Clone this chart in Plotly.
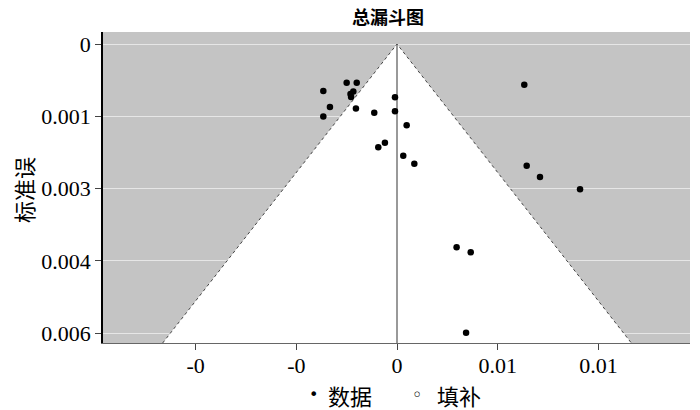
import plotly.graph_objects as go

# Study data (effect size, standard error)
effect = [-0.00250, -0.00200, -0.00366, -0.00217, -0.00231, -0.00228, -0.00333,
          -0.00366, -0.00204, -0.00113, -0.00010, -0.00010, 0.00048, -0.00060,
          -0.00093, 0.00031, 0.00086, 0.00632, 0.00644, 0.00710, 0.00909,
          0.00296, 0.00366, 0.00343]
std_err = [0.000803, 0.000803, 0.000975, 0.000985, 0.001037, 0.00110, 0.001307,
           0.001504, 0.001338, 0.001425, 0.001106, 0.001396, 0.001687, 0.002048,
           0.002143, 0.002317, 0.002483, 0.000844, 0.002525, 0.002759, 0.003015,
           0.004218, 0.004322, 0.005990]

y_tickvals = [0, 0.0015, 0.003, 0.0045, 0.006]
y_ticktext = ["0", "0.001", "0.003", "0.004", "0.006"]
x_tickvals = [-0.01, -0.005, 0, 0.005, 0.01]
x_ticktext = ["-0", "-0", "0", "0.01", "0.01"]

legend_labels = ["数据", "填补"]
legend_glyphs = ["•", "◦"]

pooled = 0.0
z_val = 1.876
y_range = [0.006203, -0.000249]
x_range = [-0.0146, 0.01455]
se_max = y_range[0]

serif = "Liberation Serif, Noto Sans CJK SC"
cjk = "Noto Sans CJK SC"

fig = go.Figure()

# funnel (white region)
fig.add_trace(go.Scatter(
    x=[pooled - z_val * se_max, pooled, pooled + z_val * se_max],
    y=[se_max, 0, se_max],
    mode="lines", fill="toself", fillcolor="white",
    line=dict(color="#444444", width=1, dash="dot"),
    hoverinfo="skip", showlegend=False))

# pooled line
fig.add_trace(go.Scatter(
    x=[pooled, pooled], y=[0, se_max], mode="lines",
    line=dict(color="#555555", width=1.2),
    hoverinfo="skip", showlegend=False))

fig.add_trace(go.Scatter(
    x=effect, y=std_err, mode="markers", name=legend_labels[0],
    marker=dict(color="black", size=6.5, symbol="circle"),
    showlegend=False))

# legend drawn as text (imputed series is empty)
leg_y = -0.167
leg_items = [
    (legend_glyphs[0], 0.3578, "DejaVu Sans", 16),
    (legend_labels[0], 0.4208, cjk, 22),
    (legend_glyphs[1], 0.5366, "DejaVu Sans", 18),
    (legend_labels[1], 0.6065, cjk, 22),
]
for txt, xp, fam, sz in leg_items:
    fig.add_annotation(text=txt, xref="paper", yref="paper", x=xp, y=leg_y,
                       xanchor="center", yanchor="middle", showarrow=False,
                       font=dict(family=fam, size=sz, color="black"))

# y-axis title
fig.add_annotation(text="标准误", xref="paper", yref="paper", x=-0.1363, y=0.492,
                   xanchor="center", yanchor="middle",
                   textangle=-90, showarrow=False,
                   font=dict(family=cjk, size=22, color="black"))

# chart title as an annotation placed just above the plot area
fig.add_annotation(text="<b>总漏斗图</b>", xref="paper", yref="paper",
                   x=0.4855, y=1.0, xanchor="center", yanchor="bottom",
                   yshift=1, showarrow=False,
                   font=dict(family=cjk, size=18, color="black"))

fig.update_layout(
    width=700, height=410,
    margin=dict(l=95, r=18, t=24, b=75),
    paper_bgcolor="white",
    plot_bgcolor="#c4c4c4",
    font=dict(family=serif, size=22, color="black"),
    showlegend=False,
)

fig.update_xaxes(
    range=x_range, tickvals=x_tickvals, ticktext=x_ticktext,
    showgrid=False, zeroline=False, automargin=False,
    showline=True, linecolor="#666666", linewidth=1,
    ticks="outside", ticklen=6, tickcolor="#444444",
    ticklabelstandoff=-3,
    tickfont=dict(family=serif, size=22))

fig.update_yaxes(
    range=y_range, tickvals=y_tickvals, ticktext=y_ticktext,
    showgrid=True, gridcolor="#e6e6e6", gridwidth=1, zeroline=False,
    automargin=False,
    showline=True, linecolor="black", linewidth=1.5,
    ticks="outside", ticklen=6, tickcolor="#444444",
    tickfont=dict(family=serif, size=22))

fig.write_html("out.html")
